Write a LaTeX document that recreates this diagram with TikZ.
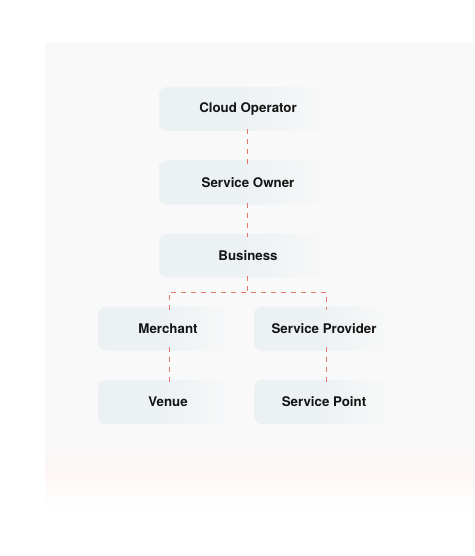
\documentclass[tikz,border=0pt]{standalone}
\usepackage{fontspec}
\setmainfont{TeX Gyre Heros}
\definecolor{boxc}{HTML}{ECF1F4}
\definecolor{linkc}{HTML}{E2786D}
\definecolor{panelc}{HTML}{F9F9F9}
\definecolor{pinkc}{HTML}{FDF6F6}
\pgfdeclarehorizontalshading{boxfade}{100bp}{color(0bp)=(boxc); color(25bp)=(boxc); color(48bp)=(boxc); color(75bp)=(panelc); color(100bp)=(panelc)}
\pgfdeclareverticalshading{panelfade}{100bp}{color(0bp)=(white); color(25bp)=(white); color(29bp)=(pinkc); color(33bp)=(panelc); color(75bp)=(panelc); color(100bp)=(panelc)}
\tikzset{
  boxnode/.style={shading=boxfade, rounded corners=8pt, minimum height=44pt,
    inner sep=0pt, font=\bfseries\fontsize{13.3}{15}\selectfont, text=black!92},
  widebox/.style={boxnode, minimum width=178pt},
  narrowbox/.style={boxnode, minimum width=140pt},
  link/.style={draw=linkc, line width=0.55pt, dash pattern=on 5pt off 5pt}
}
\begin{document}
\begin{tikzpicture}[x=1pt,y=-1pt]
\useasboundingbox (0,0) rectangle (474,556);
\fill[white] (0,0) rectangle (474,556);
\shade[shading=panelfade] (45,43) rectangle (474,510);
\node[widebox] (cloud) at (248,109) {Cloud Operator};
\node[widebox] (owner) at (248,182.5) {Service Owner};
\node[widebox] (biz) at (248,255.5) {Business};
\node[narrowbox] (merch) at (168,328.5) {Merchant};
\node[narrowbox] (prov) at (324,328.5) {Service Provider};
\node[narrowbox] (venue) at (168,402) {Venue};
\node[narrowbox] (point) at (324,402) {Service Point};
\coordinate (hub) at (247,292);
\coordinate (hl) at (169,292);
\coordinate (hr) at (326,292);
\draw[link] ([yshift=2pt]cloud.south -| hub) -- ([yshift=-4pt]owner.north -| hub);
\draw[link] ([yshift=2pt]owner.south -| hub) -- ([yshift=-4pt]biz.north -| hub);
\draw[link] ([yshift=2pt]biz.south -| hub) -- (hub);
\draw[link] ([yshift=-4pt]merch.north -| hl) -- (hl) -- (hr) -- ([yshift=-4pt]prov.north -| hr);
\draw[link] ([yshift=4pt]merch.south -| hl) -- ([yshift=-4pt]venue.north -| hl);
\draw[link] ([yshift=4pt]prov.south -| hr) -- ([yshift=-4pt]point.north -| hr);
\end{tikzpicture}
\end{document}
